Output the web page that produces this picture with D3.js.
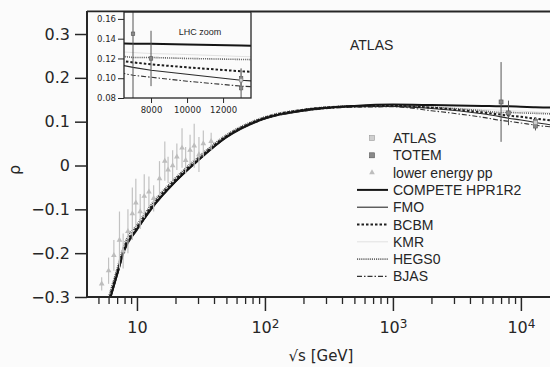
<!DOCTYPE html>
<html><head><meta charset="utf-8">
<script src="https://cdn.jsdelivr.net/npm/d3@7"></script>
<style>body{margin:0;background:#fbfbfb}svg{display:block}</style>
</head><body><svg id="c" width="550" height="367"></svg>
<script>
// ---- data ----
const energies = [6, 7, 8, 10, 13, 20, 30, 50, 100, 200, 500, 1000, 2000, 5000, 7000, 8000, 10000, 13000, 20000, 30000];
const competeRho = [-0.315, -0.248, -0.19, -0.145, -0.097, -0.036, 0.012, 0.065, 0.108, 0.126, 0.136, 0.139, 0.138, 0.136, 0.135, 0.135, 0.134, 0.133, 0.132, 0.130];
const fmoRho     = [-0.320, -0.252, -0.195, -0.148, -0.100, -0.038, 0.010, 0.063, 0.106, 0.124, 0.134, 0.135, 0.130, 0.118, 0.111, 0.108, 0.104, 0.098, 0.090, 0.083];
const bcbmRho    = [-0.310, -0.243, -0.186, -0.141, -0.093, -0.032, 0.015, 0.067, 0.109, 0.127, 0.135, 0.136, 0.132, 0.121, 0.116, 0.114, 0.111, 0.107, 0.101, 0.096];
const kmrRho     = [-0.305, -0.240, -0.183, -0.139, -0.092, -0.031, 0.016, 0.068, 0.110, 0.127, 0.134, 0.135, 0.133, 0.128, 0.126, 0.125, 0.124, 0.122, 0.119, 0.116];
const hegsRho    = [-0.300, -0.235, -0.178, -0.135, -0.088, -0.028, 0.019, 0.070, 0.111, 0.128, 0.136, 0.137, 0.133, 0.125, 0.121, 0.121, 0.120, 0.119, 0.117, 0.115];
const bjasRho    = [-0.318, -0.250, -0.193, -0.147, -0.099, -0.037, 0.011, 0.064, 0.106, 0.124, 0.133, 0.134, 0.125, 0.110, 0.103, 0.101, 0.097, 0.092, 0.086, 0.080];

const lowS   = [5.3, 6.0, 6.6, 7.3, 7.8, 8.5, 9.2, 9.8, 10.6, 11.4, 12.4, 13.5, 15.0, 16.5, 17.5, 19.0, 20.5, 22.5, 24.0, 26.0, 28.0, 30.5, 33.0, 38.0];
const lowRho = [-0.27, -0.24, -0.205, -0.17, -0.195, -0.15, -0.11, -0.085, -0.105, -0.07, -0.06, -0.075, -0.03, 0.01, -0.01, 0.0, 0.02, 0.04, 0.012, 0.035, 0.045, 0.025, 0.05, 0.055];
const lowErr = [0.015, 0.03, 0.035, 0.065, 0.04, 0.05, 0.06, 0.055, 0.04, 0.05, 0.035, 0.03, 0.04, 0.045, 0.03, 0.035, 0.03, 0.045, 0.03, 0.035, 0.05, 0.04, 0.03, 0.02];

const totemS   = [7000, 8000, 13000, 13000];
const totemRho = [0.145, 0.12, 0.10, 0.09];
const totemErr = [0.091, 0.028, 0.01, 0.01];
const atlasS   = [13000];
const atlasRho = [0.098];
const atlasErr = [0.011];

const yTicks = [-0.3, -0.2, -0.1, 0, 0.1, 0.2, 0.3];
const xMajor = [10, 100, 1000, 10000];
const xMinor = [5,6,7,8,9,20,30,40,50,60,70,80,90,200,300,400,500,600,700,800,900,2000,3000,4000,5000,6000,7000,8000,9000,20000];
const insetYTicks = [0.08, 0.10, 0.12, 0.14, 0.16];
const insetXTicks = [8000, 10000, 12000];
const legendNames = ["ATLAS", "TOTEM", "lower energy pp", "COMPETE HPR1R2", "FMO", "BCBM", "KMR", "HEGS0", "BJAS"];

// ---- styles ----
const models = [
  {name:"KMR", v:kmrRho, stroke:"#e2e2e2", w:1, dash:null},
  {name:"HEGS0", v:hegsRho, stroke:"#444", w:1.6, dash:"0.8,1.1"},
  {name:"BJAS", v:bjasRho, stroke:"#333", w:1.1, dash:"5,2,1.5,2"},
  {name:"FMO", v:fmoRho, stroke:"#2a2a2a", w:1.1, dash:null},
  {name:"BCBM", v:bcbmRho, stroke:"#1e1e1e", w:2, dash:"2.5,2"},
  {name:"COMPETE HPR1R2", v:competeRho, stroke:"#151515", w:2, dash:null}
];
const ink = "#262626";
const svg = d3.select("#c");
svg.append("rect").attr("width",550).attr("height",367).attr("fill","#fbfbfb");

const x = d3.scaleLog().domain([4.07, 26000]).range([87, 574]);
const y = d3.scaleLinear().domain([-0.3, 0.3525]).range([297, 11]);

const defs = svg.append("defs");
defs.append("clipPath").attr("id","mainclip").append("rect").attr("x",87).attr("y",11).attr("width",500).attr("height",286);

// main curves
const plot = svg.append("g").attr("clip-path","url(#mainclip)");
const lineMain = vals => d3.line().x((d,i)=>x(energies[i])).y(d=>y(d)).curve(d3.curveMonotoneX)(vals);
models.forEach(m=>{
  plot.append("path").attr("d", lineMain(m.v)).attr("fill","none").attr("stroke",m.stroke)
    .attr("stroke-width",m.w).attr("stroke-dasharray",m.dash);
});

// low energy data
lowS.forEach((s,i)=>{
  plot.append("line").attr("x1",x(s)).attr("x2",x(s)).attr("y1",y(lowRho[i]-lowErr[i])).attr("y2",y(lowRho[i]+lowErr[i]))
    .attr("stroke","#c2c2c2").attr("stroke-width",1.2);
});
const tri = d3.symbol().type(d3.symbolTriangle).size(14);
lowS.forEach((s,i)=>{
  plot.append("path").attr("d",tri()).attr("transform",`translate(${x(s)},${y(lowRho[i])})`).attr("fill","#bdbdbd");
});
// LHC data main
function drawPts(g, xs, sArr, rArr, eArr, ys, fill, stroke, size){
  sArr.forEach((s,i)=>{
    g.append("line").attr("x1",xs(s)).attr("x2",xs(s)).attr("y1",ys(rArr[i]-eArr[i])).attr("y2",ys(rArr[i]+eArr[i]))
      .attr("stroke",stroke).attr("stroke-width",1);
    g.append("rect").attr("x",xs(s)-size/2).attr("y",ys(rArr[i])-size/2).attr("width",size).attr("height",size)
      .attr("fill",fill).attr("stroke",stroke).attr("stroke-width",0.6);
  });
}
drawPts(plot, x, totemS, totemRho, totemErr, y, "#8a8a8a", "#555", 4);
drawPts(plot, x, atlasS, atlasRho, atlasErr, y, "#cfcfcf", "#888", 4);

// axes
const yAx = svg.append("g").attr("transform","translate(87,0)")
  .call(d3.axisLeft(y).tickValues(yTicks).tickSize(12).tickPadding(5)
    .tickFormat(d => d===0 ? "0" : (d<0?"\u2212":"") + Math.abs(d).toFixed(1)));
yAx.select(".domain").remove();
yAx.selectAll("line").attr("stroke",ink).attr("stroke-width",1.5);
yAx.selectAll("text").attr("font-family","DejaVu Sans").attr("font-size",16).attr("fill",ink);

const xMin = svg.append("g").attr("transform","translate(0,297)")
  .call(d3.axisBottom(x).tickValues(xMinor).tickSize(7).tickFormat(""));
xMin.select(".domain").remove();
xMin.selectAll("line").attr("stroke",ink).attr("stroke-width",1.3);
const xMaj = svg.append("g").attr("transform","translate(0,297)")
  .call(d3.axisBottom(x).tickValues(xMajor).tickSize(14).tickPadding(11).tickFormat(""));
xMaj.select(".domain").remove();
xMaj.selectAll("line").attr("stroke",ink).attr("stroke-width",1.5);
xMaj.selectAll("text").each(function(d){
  const t = d3.select(this).attr("font-family","DejaVu Sans").attr("font-size",16).attr("fill",ink);
  const e = Math.round(Math.log10(d));
  t.append("tspan").text("10");
  if (e>1) t.append("tspan").attr("dy","-0.45em").attr("font-size",12).text(e);
});

// frame
svg.append("line").attr("x1",87).attr("x2",87).attr("y1",11).attr("y2",298).attr("stroke",ink).attr("stroke-width",2);
svg.append("line").attr("x1",86).attr("x2",550).attr("y1",297).attr("y2",297).attr("stroke",ink).attr("stroke-width",2);
svg.append("line").attr("x1",87).attr("x2",550).attr("y1",11.5).attr("y2",11.5).attr("stroke",ink).attr("stroke-width",1.8);

// labels
svg.append("text").attr("transform","translate(20,170) rotate(-90)").attr("text-anchor","middle")
  .attr("font-family","DejaVu Sans").attr("font-size",16).attr("fill",ink).text("\u03C1");
svg.append("text").attr("x",321).attr("y",361).attr("text-anchor","middle")
  .attr("font-family","DejaVu Sans").attr("font-size",15).attr("fill",ink).text("\u221As [GeV]");
svg.append("text").attr("x",350).attr("y",50).attr("font-family","Liberation Sans").attr("font-size",14).attr("fill",ink).text("ATLAS");

// legend
const lg = svg.append("g");
const styleFor = n => models.find(m=>m.name===n);
legendNames.forEach((n,i)=>{
  const yy = 138 + i*17.3;
  lg.append("text").attr("x",393).attr("y",yy).attr("dy","0.36em").attr("font-family","Liberation Sans")
    .attr("font-size",14).attr("fill",ink).text(n);
  if (n==="ATLAS") lg.append("rect").attr("x",369.5).attr("y",yy-2.5).attr("width",5).attr("height",5).attr("fill","#cfcfcf").attr("stroke","#999").attr("stroke-width",0.6);
  else if (n==="TOTEM") lg.append("rect").attr("x",369.5).attr("y",yy-2.5).attr("width",5).attr("height",5).attr("fill","#8a8a8a").attr("stroke","#555").attr("stroke-width",0.6);
  else if (n==="lower energy pp") lg.append("path").attr("d",tri()).attr("transform",`translate(372,${yy})`).attr("fill","#bdbdbd");
  else {
    const m = styleFor(n);
    lg.append("line").attr("x1",357).attr("x2",388).attr("y1",yy).attr("y2",yy).attr("stroke",m.stroke)
      .attr("stroke-width",m.w).attr("stroke-dasharray",m.dash);
  }
});

// ---- inset ----
const ix = d3.scaleLinear().domain([6500, 13550]).range([124, 251]);
const iy = d3.scaleLinear().domain([0.08, 0.167]).range([98, 12]);
svg.append("rect").attr("x",88).attr("y",12.5).attr("width",164).attr("height",107).attr("fill","#fbfbfb");
defs.append("clipPath").attr("id","insclip").append("rect").attr("x",124).attr("y",12).attr("width",127).attr("height",86);
const ins = svg.append("g").attr("clip-path","url(#insclip)");
const lineIns = vals => d3.line().x((d,i)=>ix(energies[i])).y(d=>iy(d))(vals);
models.forEach(m=>{
  ins.append("path").attr("d", lineIns(m.v)).attr("fill","none").attr("stroke",m.stroke)
    .attr("stroke-width",m.w).attr("stroke-dasharray",m.dash);
});
drawPts(ins, ix, totemS, totemRho, totemErr, iy, "#8a8a8a", "#555", 3.5);
drawPts(ins, ix, atlasS, atlasRho, atlasErr, iy, "#cfcfcf", "#888", 3.5);
svg.append("rect").attr("x",124).attr("y",12).attr("width",127).attr("height",86).attr("fill","none").attr("stroke",ink).attr("stroke-width",1.3);
const iyAx = svg.append("g").attr("transform","translate(124,0)")
  .call(d3.axisLeft(iy).tickValues(insetYTicks).tickSize(6).tickPadding(2).tickFormat(d3.format(".2f")));
iyAx.select(".domain").remove();
iyAx.selectAll("line").attr("stroke",ink);
iyAx.selectAll("text").attr("font-family","DejaVu Sans").attr("font-size",8.5).attr("fill",ink);
const ixAx = svg.append("g").attr("transform","translate(0,98)")
  .call(d3.axisBottom(ix).tickValues(insetXTicks).tickSize(5).tickPadding(4).tickFormat(d3.format("d")));
ixAx.select(".domain").remove();
ixAx.selectAll("line").attr("stroke",ink);
ixAx.selectAll("text").attr("font-family","DejaVu Sans").attr("font-size",8.5).attr("fill",ink);
svg.append("text").attr("x",200).attr("y",35).attr("text-anchor","middle").attr("font-family","Liberation Sans")
  .attr("font-size",9).attr("fill",ink).text("LHC zoom");
</script></body></html>
